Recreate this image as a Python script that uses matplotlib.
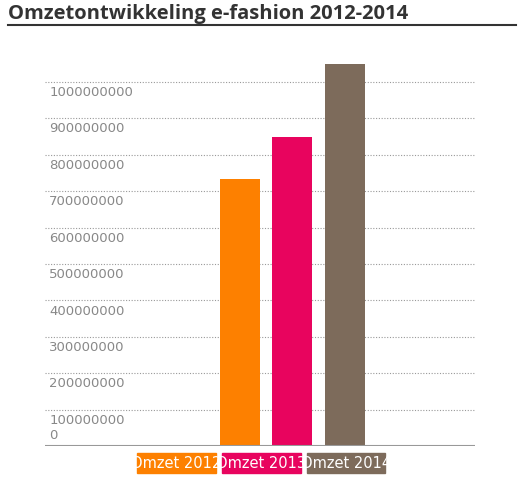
import matplotlib
matplotlib.use("Agg")
import matplotlib.pyplot as plt
from matplotlib.lines import Line2D

series = ["Omzet 2012", "Omzet 2013", "Omzet 2014"]
values = [733000000, 849000000, 1049000000]
colors = ["#fd8000", "#e8045e", "#7d6b5b"]
yticks = [0, 100000000, 200000000, 300000000, 400000000, 500000000,
          600000000, 700000000, 800000000, 900000000, 1000000000]

fig = plt.figure(figsize=(5.21, 4.8), dpi=100)
ax = fig.add_axes([45/521, 34/480, 430/521, 406/480])
ax.bar(range(3), values, width=0.76, color=colors, zorder=3)
ax.set_xlim(-3.71, 4.48)
ax.set_ylim(0, 1115000000)
for sp in ax.spines.values():
    sp.set_visible(False)
ax.axhline(0, color="#999999", lw=1.5, zorder=4)
for t in yticks[1:]:
    ax.axhline(t, color="#999999", lw=0.8, ls=(0, (1, 1.5)), zorder=1)
ax.set_xticks([]); ax.set_yticks([])
fn = ["Liberation Sans Narrow", "DejaVu Sans"]
for t in yticks:
    if t == 0:
        ax.annotate("0", (0, t), xycoords=("axes fraction", "data"), xytext=(3, 3),
                    textcoords="offset points", va="bottom", ha="left",
                    fontsize=9.5, color="#888888", family=fn)
    else:
        ax.annotate(str(t), (0, t), xycoords=("axes fraction", "data"), xytext=(3, -3),
                    textcoords="offset points", va="top", ha="left",
                    fontsize=9.5, color="#888888", family=fn)

fig.text(8/521, 1-14/480, "Omzetontwikkeling e-fashion 2012-2014", fontsize=14.5,
         fontweight="bold", color="#333333", va="center", ha="left", family=["Open Sans", "DejaVu Sans"])
fig.add_artist(Line2D([8/521, 516/521], [1-25/480, 1-25/480], color="#333333", lw=1.5,
                      transform=fig.transFigure))

lx = [137, 222, 307]
lw_ = [79, 79, 78]
for x0, w, s, c in zip(lx, lw_, series, colors):
    fig.patches.append(plt.Rectangle((x0/521, 1-473/480), w/521, 20/480, color=c,
                                     transform=fig.transFigure))
    fig.text((x0 + w/2)/521, 1-463/480, s, color="white", fontsize=10.5, ha="center",
             va="center", family=fn)

fig.savefig("out.png", dpi=100)
